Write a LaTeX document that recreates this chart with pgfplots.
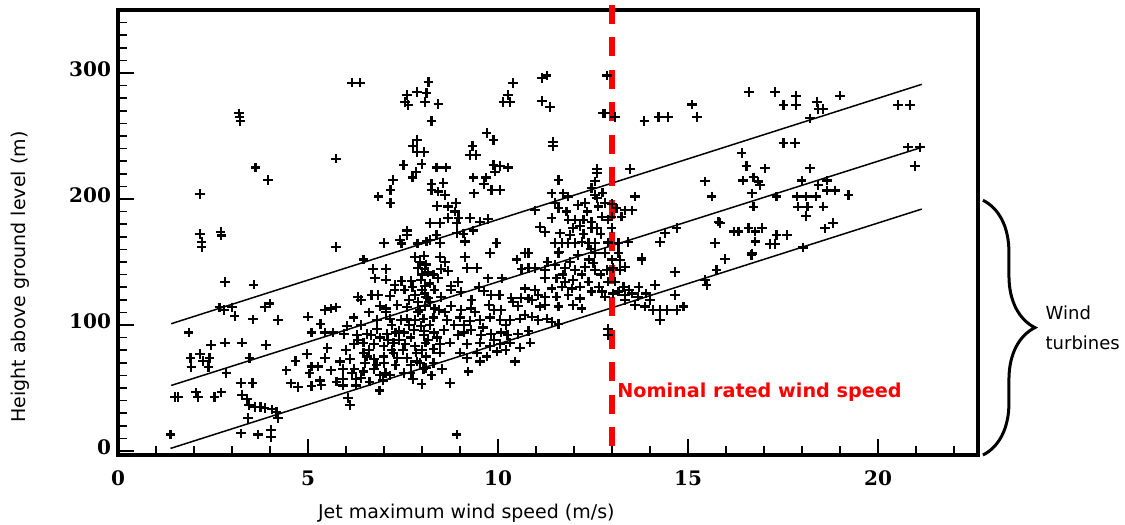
\documentclass[border=0pt]{standalone}
\usepackage{fontspec}
\setmainfont{DejaVu Sans}
\newfontfamily\tickfont{DejaVu Serif}
\usepackage{pgfplots}
\usepackage{pgfplotstable}
\pgfplotsset{compat=1.18}
\usetikzlibrary{decorations.pathreplacing}
\definecolor{nomred}{RGB}{255,0,0}
\pgfplotstableread{
x y
3.2 265
3.18 268
3.22 262
3.62 225
3.95 215
2.15 204
2.15 172
2.2 166
2.2 162
2.7 174
2.72 171
5.74 232
5.74 162
2.81 134
3.57 132
2.67 114
2.79 112
3.0 114
3.07 107
3.55 104.5
3.86 114.5
3.99 117
4.21 104
1.86 94
2.44 84
2.81 86
3.26 86
3.89 84
1.91 74
2.15 77
2.24 71.5
2.41 74
1.93 66.5
2.38 66.5
3.46 74
2.85 62
1.49 43
1.58 43
2.06 46.5
2.1 43
2.54 43
2.72 46.5
3.23 54
3.54 54
3.26 44.4
3.4 41.3
3.44 36.5
3.6 35
3.75 35
3.86 34
4.05 33
4.17 31
4.21 26
3.42 26
1.38 13
3.23 14
3.68 13
4.02 16.7
4.03 11
5.0 106.6
5.33 101
5.44 112
5.61 113
5.09 94
5.44 94
5.66 94
5.51 81.5
4.98 77
4.67 71.4
5.09 67
5.26 67
5.44 73.6
5.61 64
5.04 61.6
5.31 56
4.43 64
4.56 53.7
4.74 51
5.09 51.6
5.35 52.4
5.75 55
6.15 292.3
6.37 292.3
8.17 293
10.39 292
7.6 282.5
7.86 285
8.12 284
7.55 277
7.64 274.6
8.08 277
8.43 275.4
10.27 282.5
10.14 277
10.32 277
8.25 262
9.7 252.6
9.88 246.8
7.86 247
7.77 242
7.87 237.5
8.05 237.5
9.33 242
9.26 235
9.42 235
7.51 227
7.99 228
7.84 221.7
7.75 217
8.38 225
8.63 225
9.88 227
10.05 226
10.27 225
9.92 221.7
9.35 217
9.68 217
9.63 212
9.83 207
10.05 207
9.37 204.5
7.24 215
7.17 207
7.17 197
6.85 202
8.25 212
8.56 212.5
8.25 207
8.43 206
8.6 203
8.4 194.4
8.69 194
8.89 197
8.87 190
8.96 185
8.69 185
8.21 181
8.47 181
8.91 181
9.26 185
9.53 182
9.74 184
9.35 175
7.61 175
7.61 171.5
7.42 167.5
7.0 165
7.46 164.7
7.88 164.7
8.12 166.3
8.21 167.5
8.47 165
8.38 171.5
8.91 173
9.09 172.5
9.13 166.3
9.96 165
9.79 157
10.71 157
6.46 152
7.82 154
8.47 154
8.6 150
9.13 154
10.49 152
6.71 144.5
7.06 144.5
8.07 144.5
8.5 144.5
8.68 143
9.18 145
9.44 145
10.62 144.5
6.76 137
7.06 136
7.28 132
7.46 135
7.72 135
7.98 136
8.07 131
8.42 137
8.77 131
8.94 134
9.74 137
10.1 137
6.32 122
6.67 124
6.85 124
7.15 123
7.28 128
7.54 128
7.81 124
8.07 125
8.33 128
8.5 122
8.77 128
9.03 126
9.64 127
9.82 124
10.04 124
10.35 121.5
10.61 121.5
8.16 121.5
5.74 114
7.06 113
7.6 114
8.07 115
8.33 113
8.77 115
9.29 113
9.77 116
10.08 112
10.53 115
9.03 112
6.2 106
6.81 104
7.16 105
7.6 105
7.82 104
8.04 105
8.3 106
8.65 104
9.0 106
9.26 103
9.53 104
9.79 106
10.06 104
10.32 104
10.58 105
6.29 92
6.55 93
6.81 97
7.08 93
7.3 94
7.52 94
7.79 96
8.05 92
8.32 94
8.58 96
8.94 92
9.11 94
9.29 96
9.55 92
9.82 93
10.08 94
10.25 92
10.52 93
5.94 93
6.03 99
7.97 99
6.2 85
6.46 86
6.73 85
6.99 83
7.25 86
7.56 85
7.82 83
8.09 86
8.48 85
8.74 86
9.18 85
9.53 86
9.79 83
10.06 85
10.32 86
10.58 82
10.85 86
5.84 71
6.11 73
6.46 78
6.73 73
6.99 75
7.25 78
7.86 71
8.47 78
9.0 78
9.18 74
9.53 71
9.97 79
10.45 71
5.92 65
6.22 65
6.46 63
6.73 65
7.04 62
7.52 62
8.04 65
8.52 65
9.22 63
5.92 57
6.27 57
5.92 52
6.27 52
6.62 55
6.97 56
7.76 57
7.99 53
8.74 54
6.88 48
6.06 42
6.1 36.5
8.91 13
6.4 100
6.6 110
6.9 115
7.2 100
7.4 88
7.7 90
7.9 110
8.2 100
8.4 90
8.6 110
8.85 100
7.0 70
7.3 68
7.7 68
8.1 75
8.3 70
6.6 80
6.9 90
7.5 80
8.0 80
8.3 81
6.5 70
7.15 60
7.35 74
7.9 118
8.2 118
8.45 112
7.65 100
7.05 110
6.4 120
8.0 140
8.1 148
8.2 133
8.3 140
7.95 150
8.05 155
7.9 145
8.15 142
8.0 128
8.1 122
7.95 112
8.05 95
8.15 88
7.85 78
7.95 70
8.1 66
8.25 60
7.7 62
7.6 74
7.4 95
7.45 104
7.35 116
7.65 120
7.75 130
6.0 80
6.3 88
6.55 75
6.8 68
6.9 60
6.15 62
6.4 58
6.65 92
7.1 88
7.2 80
9.1 100
9.4 110
9.6 98
9.9 112
10.2 100
10.4 118
9.3 120
9.5 130
9.9 88
10.2 80
9.45 78
9.7 75
10.7 108
10.8 95
11.3 150
11.6 158
11.9 150
12.2 140
12.4 152
12.7 140
13.0 152
11.5 165
12.25 172
12.7 172
11.8 190
12.1 195
12.35 190
13.0 196
12.75 205
12.45 160
11.7 140
12.65 130
13.3 130
13.45 128
13.7 130
13.9 125
14.0 120
11.15 296
11.28 298
12.86 298
11.15 278
11.37 273
12.77 268
12.82 268
13.08 265
13.85 262
14.22 265
14.48 265
15.1 275
15.23 265
11.45 245.5
11.45 242
12.6 224
12.6 220.5
13.47 224
11.59 215
12.55 214
12.46 208.5
11.41 204.5
11.72 204.5
11.85 202
12.55 203
12.6 200.5
13.6 202
12.29 196.6
12.64 194
12.82 196.6
13.12 192.6
13.34 191
13.52 191
10.97 191
11.5 196.6
11.59 192.6
11.41 185
11.85 183.6
12.03 183.6
12.25 183.6
12.46 182
12.6 177
12.73 186
12.99 186
12.9 183.6
13.25 186
11.1 178
11.24 174
11.63 172.7
11.9 171.4
11.98 177
12.16 178.6
12.46 177
12.99 177
14.7 177
14.39 173
14.26 166
15.71 165
15.8 182
11.68 165
11.85 165
12.03 165
12.2 166
12.38 165
12.55 165
12.9 165.5
13.17 165
13.43 166
11.59 157
12.11 155.5
12.55 157
12.82 157
13.17 157
13.78 153
10.8 157
15.45 214
15.62 202
13.78 151.6
13.21 151.6
13.34 146
13.21 143.6
14.66 142
15.75 143.6
15.45 135.7
15.49 131.7
10.8 145
10.97 145
11.24 143.6
11.5 147.6
11.76 145
12.03 143.6
12.29 146
12.51 149
12.55 143.6
12.86 143.6
13.03 145
11.24 137
11.54 137
11.76 134.4
11.98 135.7
12.38 134.4
12.9 134.4
13.08 134.4
10.71 129
10.97 127.8
11.41 129
11.68 130.4
11.94 129
12.16 130.4
12.46 126.5
12.73 126.5
10.8 121
11.06 123.8
11.24 122.5
11.54 122.5
11.85 123.8
12.16 121
12.82 122.5
13.03 125
13.17 126.5
13.34 123.8
13.52 125
13.69 122.5
13.34 120
13.6 116
13.87 114.6
14.13 131.7
14.66 123.8
14.88 114.6
14.08 112
14.26 112
14.44 112
14.7 112
14.26 104
11.1 114.6
11.24 116
11.59 114.6
11.98 116
12.2 113
10.89 106.6
11.06 104
11.28 105
11.41 102.6
11.59 101
10.89 120
12.9 97
12.9 92
16.61 284.7
17.29 284.7
17.84 282
19.0 282
17.51 274.6
17.84 274.6
18.39 277
18.43 271.6
18.56 271.6
18.21 264
20.53 274.6
20.84 274.6
17.51 244.6
17.81 244.6
16.41 236.7
16.54 226
17.03 224.3
18.21 224.3
16.44 214.6
16.72 217.2
16.85 213.8
16.89 211.2
17.99 214.6
18.43 211.2
18.65 214.6
16.68 204.5
17.33 202
17.86 202
18.1 202
18.37 202
18.65 206.7
18.87 206.7
19.22 203.2
16.72 193.9
17.9 193.9
18.12 193.9
18.16 193.9
18.56 193.9
18.1 186.5
20.79 241
21.1 241
20.97 226
18.6 176.7
18.82 181
15.84 180.8
16.2 174.2
16.33 174.2
16.59 176.8
16.77 174.2
16.94 176.8
16.77 166.2
17.33 171.5
17.6 171.5
17.16 164.2
17.29 164.2
16.68 156.8
15.97 152.3
18.03 161.5
16.67 155.6
}\scatterdata

\begin{document}
\begin{tikzpicture}
\useasboundingbox (-59pt,-35pt) rectangle (503.5pt,227.5pt);
\begin{axis}[
  at={(0pt,0pt)}, anchor=south west,
  scale only axis, width=430pt, height=222.5pt,
  xmin=0, xmax=22.63, ymin=-3.2, ymax=350,
  clip=false,
  tick pos=left, tick align=inside,
  xtick={0,5,10,15,20}, ytick={0,100,200,300},
  minor xtick={0,1,...,22}, minor ytick={0,10,...,340},
  major tick length=8pt, minor tick length=4.5pt,
  every tick/.style={black, line width=0.8pt},
  axis line style={line width=2pt},
  ticklabel style={font=\tickfont\bfseries\fontsize{10}{12}\selectfont},
  xticklabel style={yshift=-4.5pt},
  yticklabel style={yshift=2pt},
  /pgf/number format/assume math mode=true,
  xlabel={Jet maximum wind speed (m/s)},
  ylabel={Height above ground level (m)},
  label style={font=\fontsize{9.5}{11}\selectfont},
  xlabel style={at={(axis description cs:0.405,-0.130)}, anchor=center},
  ylabel style={at={(axis description cs:-0.114,0.40)}, anchor=center},
]
\addplot[only marks, mark=+, mark size=2.4pt, mark options={line width=1.1pt, black}] table {\scatterdata};
\addplot[black, line width=0.75pt] coordinates {(1.4,101) (21.15,291)};
\addplot[black, line width=0.75pt] coordinates {(1.4,52) (21.15,241)};
\addplot[black, line width=0.75pt] coordinates {(1.38,2) (21.15,192)};
\addplot[nomred, line width=2.7pt, dash pattern=on 9.5pt off 6.75pt] coordinates {(13,354) (13,-3.2)};
\node[anchor=west, inner sep=0pt, text=nomred, font=\bfseries\fontsize{9.6}{11}\selectfont] at (axis cs:13.13,47) {Nominal rated wind speed};
\draw[decorate, decoration={brace, amplitude=26pt}, line width=1.5pt] (axis cs:22.76,199) -- (axis cs:22.76,-3.2);
\node[anchor=west, inner sep=0pt, align=left, font=\fontsize{9}{15}\selectfont] at (axis cs:24.4,97.6) {Wind\\turbines};
\end{axis}
\end{tikzpicture}
\end{document}
